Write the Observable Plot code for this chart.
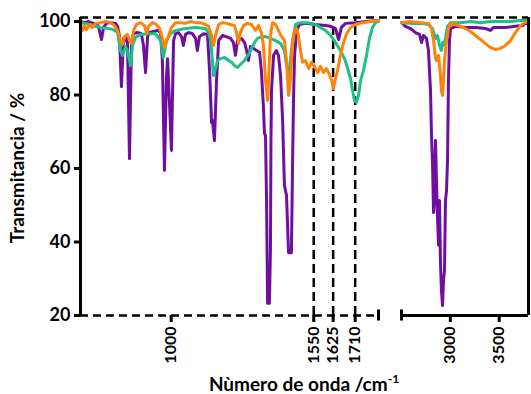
<!DOCTYPE html>
<html><head><meta charset="utf-8">
<script src="https://cdn.jsdelivr.net/npm/d3@7"></script>
<script src="https://cdn.jsdelivr.net/npm/@observablehq/plot@0.6"></script>
<style>body{margin:0;background:#fff}</style>
</head><body><div id="chart"></div>
<script>
// [wavenumber cm-1, transmittance %]
const purpleLow = [[650,100.0],[665,99.7],[681,100.0],[700,99.5],[716,99.2],[723,97.6],[731,95.1],[739,98.4],[750,99.5],[766,99.7],[785,99.5],[793,98.7],[800,96.2],[808,82.3],[816,95.4],[824,94.8],[831,95.9],[839,62.7],[847,94.8],[855,96.7],[870,97.0],[885,96.7],[893,93.5],[901,86.1],[909,95.9],[916,97.0],[932,97.3],[947,97.6],[959,97.0],[966,89.4],[974,59.5],[982,85.3],[986,89.9],[993,78.5],[1001,64.9],[1009,94.8],[1017,96.7],[1028,97.0],[1040,95.9],[1047,93.5],[1055,96.5],[1067,97.0],[1082,96.7],[1094,95.4],[1101,92.1],[1109,95.9],[1125,96.7],[1140,96.5],[1148,86.7],[1156,72.5],[1159,73.1],[1167,67.6],[1175,84.0],[1183,94.8],[1198,96.2],[1213,95.9],[1229,95.4],[1240,94.3],[1248,90.8],[1256,94.8],[1271,95.4],[1283,94.3],[1291,92.1],[1298,89.4],[1306,93.2],[1318,92.7],[1329,92.1],[1341,91.6],[1348,86.7],[1356,76.6],[1360,69.5],[1364,69.0],[1368,51.3],[1372,23.3],[1379,23.3],[1383,37.7],[1385,67.6],[1387,81.2],[1395,90.8],[1406,92.1],[1414,90.8],[1422,85.3],[1430,73.1],[1437,55.4],[1445,52.7],[1453,37.1],[1464,37.1],[1468,59.5],[1472,78.5],[1476,90.8],[1484,97.6],[1495,99.2],[1518,99.5],[1557,99.2],[1595,98.9],[1615,98.7],[1634,98.1],[1646,95.1],[1657,98.4],[1673,99.5],[1711,99.7],[1750,100.0],[1800,100.3]];
const purpleHigh = [[2500,99.7],[2541,98.7],[2592,98.1],[2643,97.0],[2684,96.5],[2705,94.3],[2725,96.2],[2756,95.4],[2776,92.1],[2797,81.2],[2807,69.0],[2817,62.2],[2828,48.0],[2838,51.3],[2848,67.6],[2858,56.7],[2868,47.2],[2879,39.1],[2889,51.3],[2899,34.4],[2909,26.8],[2920,22.7],[2930,29.5],[2940,32.2],[2950,51.3],[2961,54.0],[2971,62.2],[2981,84.0],[2991,94.8],[3002,98.1],[3053,98.7],[3155,98.4],[3257,98.4],[3360,98.1],[3411,97.6],[3442,98.4],[3565,98.4],[3667,98.7],[3739,98.9],[3769,99.7],[3800,99.2]];
const greenLow = [[650,99.7],[669,99.5],[689,99.2],[708,98.7],[727,98.4],[758,98.1],[777,97.8],[793,97.0],[804,92.1],[812,90.8],[824,93.2],[831,92.1],[843,88.0],[851,93.5],[862,95.7],[882,96.5],[912,96.7],[939,96.7],[959,94.8],[970,90.2],[982,94.8],[997,96.7],[1017,97.6],[1055,98.1],[1094,98.4],[1132,98.1],[1144,97.0],[1152,94.8],[1159,89.4],[1163,85.3],[1171,87.2],[1179,89.4],[1190,89.9],[1206,90.2],[1221,89.4],[1233,88.9],[1244,88.0],[1256,87.5],[1267,88.3],[1283,89.4],[1298,91.0],[1310,92.7],[1322,94.3],[1333,95.4],[1345,95.7],[1364,95.9],[1383,95.4],[1403,94.8],[1422,94.0],[1437,92.1],[1445,88.0],[1453,85.3],[1460,89.4],[1468,94.8],[1480,99.2],[1499,99.7],[1526,99.7],[1557,99.2],[1576,98.4],[1595,97.6],[1615,96.2],[1634,94.3],[1653,92.1],[1669,89.9],[1680,87.5],[1692,84.5],[1700,81.2],[1707,78.5],[1715,78.0],[1723,79.9],[1731,84.0],[1742,86.7],[1754,90.8],[1765,95.4],[1777,98.4],[1788,99.7],[1800,100.0]];
const greenHigh = [[2500,99.7],[2592,99.5],[2694,99.5],[2776,99.2],[2817,98.1],[2848,95.4],[2868,96.2],[2889,93.5],[2909,92.1],[2920,94.3],[2930,93.5],[2950,95.4],[2971,98.7],[3002,99.7],[3104,99.7],[3206,100.0],[3309,99.7],[3411,100.0],[3513,100.0],[3616,100.0],[3718,100.3],[3800,100.3]];
const orangeLow = [[650,98.7],[658,97.6],[665,98.9],[673,97.8],[685,99.2],[696,98.4],[708,99.5],[727,99.7],[746,100.0],[766,99.7],[781,98.9],[793,97.6],[804,94.8],[812,93.7],[820,95.9],[831,96.5],[839,94.8],[847,94.0],[855,97.6],[866,99.2],[882,99.7],[897,98.9],[905,96.7],[912,98.6],[928,99.7],[943,99.2],[955,98.1],[966,95.4],[974,92.9],[982,94.8],[990,96.2],[1001,98.4],[1017,99.7],[1036,99.7],[1055,99.5],[1074,100.0],[1094,99.7],[1113,99.7],[1132,99.2],[1144,98.7],[1156,96.2],[1163,93.5],[1171,96.2],[1183,99.2],[1198,99.7],[1213,99.5],[1229,99.2],[1244,98.9],[1252,97.0],[1260,94.0],[1267,97.0],[1279,98.9],[1294,99.5],[1310,99.2],[1325,97.6],[1337,98.9],[1348,97.0],[1356,93.5],[1364,84.0],[1372,78.5],[1375,82.6],[1383,96.2],[1391,99.7],[1403,99.2],[1414,97.6],[1426,95.9],[1437,94.8],[1445,89.4],[1453,79.9],[1460,84.0],[1468,93.5],[1476,97.6],[1484,98.1],[1491,96.2],[1499,92.1],[1507,88.9],[1518,89.4],[1530,87.2],[1542,88.9],[1553,87.8],[1565,86.1],[1576,87.8],[1588,86.1],[1599,87.2],[1611,85.6],[1619,84.0],[1626,81.8],[1634,84.5],[1642,86.7],[1653,90.8],[1665,94.3],[1677,96.7],[1692,98.4],[1711,99.2],[1738,99.7],[1769,100.0],[1800,100.3]];
const orangeHigh = [[2500,99.7],[2592,100.0],[2694,99.7],[2776,99.5],[2807,98.1],[2828,94.8],[2848,89.9],[2858,89.4],[2879,90.8],[2899,85.3],[2909,81.2],[2920,79.9],[2930,84.0],[2940,89.4],[2961,94.8],[2981,98.1],[3002,99.5],[3053,99.2],[3104,98.7],[3155,98.1],[3206,97.3],[3257,96.2],[3309,95.1],[3360,94.0],[3411,92.9],[3462,92.4],[3513,92.7],[3565,93.5],[3616,94.8],[3667,97.0],[3718,98.9],[3759,99.7],[3800,100.0]];

const seriesNames = ["s1", "s2", "s3"];
const seriesColors = ["#6f0fa0", "#1ebf88", "#ff820a"];
const xDomain = [650, 1800, 2500, 3800];   // broken axis: two segments
const yDomain = [20, 101.1];
const yTicks = [20, 40, 60, 80, 100];
const xTicks = [1000, 1550, 1625, 1710, 3000, 3500];
const refLines = [1550, 1625, 1710];

const parts = [[purpleLow, purpleHigh], [greenLow, greenHigh], [orangeLow, orangeHigh]];
const rows = [];
parts.forEach((p, si) => p.forEach((seg, gi) => seg.forEach(([wn, t]) =>
  rows.push({wn, t, series: seriesNames[si], key: seriesNames[si] + "-" + gi}))));

const F = "Lato, 'Open Sans', sans-serif";
const black = "#000";
const plot = Plot.plot({
  width: 531, height: 394,
  marginLeft: 80, marginRight: 3, marginTop: 17, marginBottom: 79,
  style: {fontFamily: F, background: "#fff", color: black},
  x: {type: "linear", domain: xDomain, range: [80, 378, 401, 528]},
  y: {domain: yDomain},
  color: {domain: seriesNames, range: seriesColors},
  marks: [
    Plot.ruleY([yDomain[1]], {stroke: black, strokeWidth: 2.5, strokeDasharray: "8,5"}),
    Plot.ruleX(refLines, {y1: yDomain[0], y2: yDomain[1], stroke: black, strokeWidth: 2.5, strokeDasharray: "9,5"}),
    Plot.line(rows, {x: "wn", y: "t", z: "key", stroke: "series", strokeWidth: 3, strokeLinejoin: "round"}),
    Plot.ruleY([yDomain[0]], {x1: xDomain[0], x2: xDomain[1], stroke: black, strokeWidth: 2.5, strokeDasharray: "8,5"}),
    Plot.ruleY([yDomain[0]], {x1: xDomain[2], x2: xDomain[3], stroke: black, strokeWidth: 3}),
    Plot.ruleX([xDomain[1], xDomain[2]], {y1: yDomain[0] - 1.5, y2: yDomain[0] + 1.5, stroke: black, strokeWidth: 3}),
    Plot.ruleX([xDomain[0], xDomain[3]], {y1: yDomain[0], y2: yDomain[1], stroke: black, strokeWidth: 3}),
    Plot.axisY({ticks: yTicks, tickSize: 6, tickPadding: 4, tickFormat: d => String(d), fontSize: 18, fontWeight: "bold", strokeWidth: 3, label: null}),
    Plot.axisX({ticks: xTicks, tickSize: 7, tickPadding: 4, tickRotate: -90, tickFormat: d => String(d), fontSize: 16, fontWeight: "bold", strokeWidth: 3, label: null})
  ]
});
document.getElementById("chart").appendChild(plot);

const svg = d3.select(plot);
svg.append("text")
  .attr("transform", "translate(24,168) rotate(-90)")
  .attr("text-anchor", "middle").attr("font-family", F)
  .attr("font-size", 19).attr("font-weight", "bold").attr("fill", black)
  .text("Transmitancia / %");
const xt = svg.append("text")
  .attr("x", 304).attr("y", 391).attr("text-anchor", "middle").attr("font-family", F)
  .attr("font-size", 19).attr("font-weight", "bold").attr("fill", black);
xt.append("tspan").text("Nùmero de onda /cm");
xt.append("tspan").attr("dy", -8).attr("font-size", 12).text("-1");
</script>
</body></html>
